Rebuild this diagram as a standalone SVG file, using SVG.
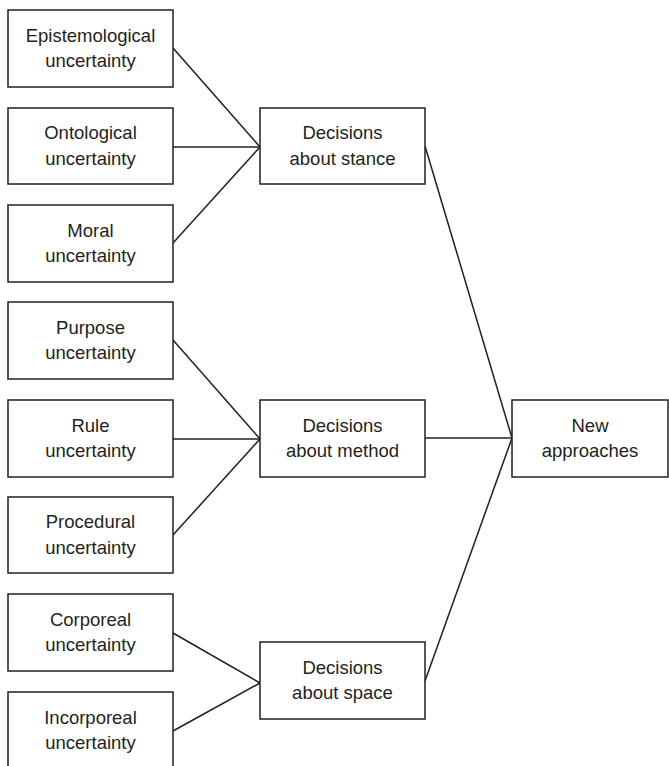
<svg xmlns="http://www.w3.org/2000/svg" width="669" height="766" viewBox="0 0 669 766">
<style>
.box{fill:#fff;stroke:#231f20;stroke-width:1.5}
.t{font-family:"Liberation Sans",Arial,sans-serif;font-size:18.5px;fill:#231f20;text-anchor:middle}
.c{stroke:#231f20;stroke-width:1.5;fill:none}
</style>
<rect width="669" height="766" fill="#fff"/>
<g id="connectors">
<line class="c" x1="173" y1="48" x2="260" y2="147"/>
<line class="c" x1="173" y1="147" x2="260" y2="147"/>
<line class="c" x1="173" y1="243" x2="260" y2="147"/>
<line class="c" x1="173" y1="340" x2="260" y2="439"/>
<line class="c" x1="173" y1="439" x2="260" y2="439"/>
<line class="c" x1="173" y1="535" x2="260" y2="439"/>
<line class="c" x1="173" y1="633" x2="260" y2="683"/>
<line class="c" x1="173" y1="731" x2="260" y2="683"/>
<line class="c" x1="425" y1="146" x2="512" y2="438"/>
<line class="c" x1="425" y1="438" x2="512" y2="438"/>
<line class="c" x1="425" y1="681" x2="512" y2="438"/>
</g>
<g id="epistemological"><rect class="box" x="8" y="10" width="165" height="77"/><text class="t" x="90.5" y="42">Epistemological</text><text class="t" x="90.5" y="67">uncertainty</text></g>
<g id="ontological"><rect class="box" x="8" y="108" width="165" height="76"/><text class="t" x="90.5" y="139">Ontological</text><text class="t" x="90.5" y="165">uncertainty</text></g>
<g id="moral"><rect class="box" x="8" y="205" width="165" height="77"/><text class="t" x="90.5" y="237">Moral</text><text class="t" x="90.5" y="262">uncertainty</text></g>
<g id="purpose"><rect class="box" x="8" y="302" width="165" height="77"/><text class="t" x="90.5" y="334">Purpose</text><text class="t" x="90.5" y="359">uncertainty</text></g>
<g id="rule"><rect class="box" x="8" y="400" width="165" height="77"/><text class="t" x="90.5" y="432">Rule</text><text class="t" x="90.5" y="457">uncertainty</text></g>
<g id="procedural"><rect class="box" x="8" y="497" width="165" height="76"/><text class="t" x="90.5" y="528">Procedural</text><text class="t" x="90.5" y="554">uncertainty</text></g>
<g id="corporeal"><rect class="box" x="8" y="594" width="165" height="77"/><text class="t" x="90.5" y="626">Corporeal</text><text class="t" x="90.5" y="651">uncertainty</text></g>
<g id="incorporeal"><rect class="box" x="8" y="692" width="165" height="77"/><text class="t" x="90.5" y="724">Incorporeal</text><text class="t" x="90.5" y="749">uncertainty</text></g>
<g id="stance"><rect class="box" x="260" y="108" width="165" height="76"/><text class="t" x="342.5" y="139">Decisions</text><text class="t" x="342.5" y="165">about stance</text></g>
<g id="method"><rect class="box" x="260" y="400" width="165" height="77"/><text class="t" x="342.5" y="432">Decisions</text><text class="t" x="342.5" y="457">about method</text></g>
<g id="space"><rect class="box" x="260" y="642" width="165" height="77"/><text class="t" x="342.5" y="674">Decisions</text><text class="t" x="342.5" y="699">about space</text></g>
<g id="new"><rect class="box" x="512" y="400" width="156" height="77"/><text class="t" x="590" y="432">New</text><text class="t" x="590" y="457">approaches</text></g>
</svg>
